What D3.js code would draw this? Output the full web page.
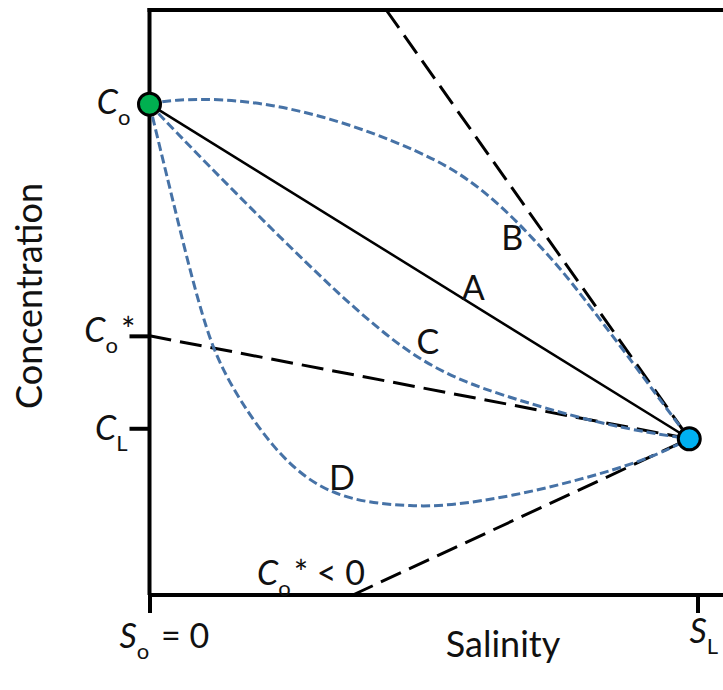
<!DOCTYPE html>
<html>
<head>
<meta charset="utf-8">
<script src="https://cdn.jsdelivr.net/npm/d3@7"></script>
<style>
  html, body { margin: 0; padding: 0; background: #fff; }
  svg { display: block; }
  text { font-family: Lato, "Open Sans", sans-serif; fill: #111; }
</style>
</head>
<body>
<svg id="chart" width="723" height="690"></svg>
<script>
// Mixing diagram: concentration vs salinity between river end-member (S = 0)
// and ocean end-member (S = S_L). Units are schematic (0–100).

// End-members [salinity, concentration]
const riverEnd = [0, 83.9];
const oceanEnd = [98.5, 26.7];

// Axis tick positions
const salinityTicks = [0, 100];
const salinityTickNames = [["S", "o", " = 0"], ["S", "L", ""]];
const concTicks = [44.3, 28.5];
const concTickNames = [["C", "o", "*"], ["C", "L", ""]];

// Mixing curves (non-conservative behaviour)
const curveB = [[0, 83.9], [4.3, 84.7], [13.4, 84.8], [22.5, 83.8], [31.7, 81.8], [40.8, 79.0],
  [48.8, 75.9], [54.8, 73.1], [60.3, 69.6], [65.8, 65.0], [70.0, 60.9], [74.9, 55.9],
  [79.1, 50.9], [85.9, 42.6], [92.2, 34.6], [98.5, 26.7]];
const curveC = [[0, 83.9], [5.0, 79.0], [10.5, 73.7], [16.5, 68.0], [22.5, 62.4], [28.4, 57.0],
  [34.2, 51.8], [39.7, 47.2], [45.7, 42.6], [51.7, 39.0], [57.9, 36.3], [64.0, 34.3],
  [72.7, 31.8], [82.2, 29.4], [91.3, 27.7], [98.5, 26.7]];
const curveD = [[0, 83.9], [1.9, 76.5], [4.3, 67.3], [7.4, 55.4], [10.5, 45.0], [12.9, 39.4],
  [16.5, 33.2], [22.5, 25.2], [28.7, 19.7], [34.8, 16.9], [40.8, 15.7], [47.5, 15.2],
  [54.3, 15.2], [66.3, 16.9], [78.6, 19.7], [90.8, 23.1], [98.5, 26.7]];

// Tangent lines at the ocean end-member (extrapolated effective river concentrations)
const tangentB = [[43.2, 100], [98.5, 26.7]];
const tangentC = [[0, 44.3], [98.5, 26.7]];
const tangentD = [[37.1, 0], [98.5, 26.7]];

// Curve labels
const curveLabels = [
  { name: "A", s: 59.1, c: 50.4 },
  { name: "B", s: 66.2, c: 58.9 },
  { name: "C", s: 50.8, c: 41.2 },
  { name: "D", s: 35.1, c: 18.0 }
];

const svg = d3.select("#chart");
const W = 723;
const x = d3.scaleLinear().domain([0, 100]).range([149.5, 697.5]);
const y = d3.scaleLinear().domain([0, 100]).range([595, 10]);

const line = d3.line().x(d => x(d[0])).y(d => y(d[1]));
const smooth = d3.line().x(d => x(d[0])).y(d => y(d[1])).curve(d3.curveBasis);

// Frame: top border and baseline running to the right edge
svg.append("line").attr("x1", x(0) - 2).attr("x2", W).attr("y1", y(100)).attr("y2", y(100))
  .attr("stroke", "#000").attr("stroke-width", 4);
svg.append("line").attr("x1", x(0)).attr("x2", W).attr("y1", y(0)).attr("y2", y(0))
  .attr("stroke", "#000").attr("stroke-width", 4);
svg.append("line").attr("x1", x(0)).attr("x2", x(0)).attr("y1", y(100) - 2).attr("y2", y(0))
  .attr("stroke", "#000").attr("stroke-width", 4);

// Axes (ticks only)
const xAxis = d3.axisBottom(x).tickValues(salinityTicks).tickSize(18).tickSizeOuter(0).tickFormat("");
const gx = svg.append("g").attr("transform", `translate(0,${y(0)})`).call(xAxis);
gx.select(".domain").remove();
gx.selectAll(".tick line").attr("stroke", "#000").attr("stroke-width", 4);

const yAxis = d3.axisLeft(y).tickValues(concTicks).tickSize(20).tickSizeOuter(0).tickFormat("");
const gy = svg.append("g").attr("transform", `translate(${x(0)},0)`).call(yAxis);
gy.select(".domain").remove();
gy.selectAll(".tick line").attr("stroke", "#000").attr("stroke-width", 4);

// Label with italic symbol + subscript + trailing text
function symLabel(sel, parts, size, subSize) {
  sel.append("tspan").attr("font-style", "italic").attr("font-size", size).text(parts[0]);
  sel.append("tspan").attr("font-size", subSize).attr("dy", 11).text(parts[1]);
  if (parts[2]) sel.append("tspan").attr("font-size", size).attr("dx", 3).attr("dy", -11).text(parts[2]);
}

// y tick labels
const yLabelOffsets = [[-14, 6], [-22, 12]];
concTicks.forEach((v, i) => {
  const t = svg.append("text").attr("text-anchor", "end")
    .attr("x", x(0) + yLabelOffsets[i][0]).attr("y", y(v) + yLabelOffsets[i][1]);
  symLabel(t, concTickNames[i], 34, 22);
});
// C_o at the river end-member
{
  const t = svg.append("text").attr("text-anchor", "end")
    .attr("x", x(riverEnd[0]) - 19).attr("y", y(riverEnd[1]) + 10);
  symLabel(t, ["C", "o", ""], 34, 22);
}
// x tick labels
const xLabelOffsets = [[-30, 53], [-8, 48]];
salinityTicks.forEach((v, i) => {
  const t = svg.append("text").attr("text-anchor", "start")
    .attr("x", x(v) + xLabelOffsets[i][0]).attr("y", y(0) + xLabelOffsets[i][1]);
  symLabel(t, salinityTickNames[i], 34, 22);
});

// Axis titles
svg.append("text").attr("text-anchor", "middle").attr("font-size", 36)
  .attr("x", 503).attr("y", 657).text("Salinity");
svg.append("text").attr("text-anchor", "middle").attr("font-size", 36)
  .attr("transform", `translate(42,296) rotate(-90)`).text("Concentration");

// Tangent lines
[tangentB, tangentC, tangentD].forEach(seg => {
  svg.append("path").attr("d", line(seg)).attr("fill", "none")
    .attr("stroke", "#000").attr("stroke-width", 3).attr("stroke-dasharray", "22,9");
});

// Conservative mixing line A
svg.append("path").attr("d", line([riverEnd, oceanEnd])).attr("fill", "none")
  .attr("stroke", "#000").attr("stroke-width", 2.5);

// Non-conservative mixing curves
[curveB, curveC, curveD].forEach(c => {
  svg.append("path").attr("d", smooth(c)).attr("fill", "none")
    .attr("stroke", "#4672a6").attr("stroke-width", 3).attr("stroke-dasharray", "9,4");
});

// "C_o* < 0" annotation for the negative intercept of the lower tangent
{
  const t = svg.append("text").attr("x", 257).attr("y", 585);
  symLabel(t, ["C", "o", "* < 0"], 34, 22);
}

// Curve letters
svg.selectAll("text.curve").data(curveLabels).join("text").attr("class", "curve")
  .attr("text-anchor", "middle").attr("font-size", 34)
  .attr("x", d => x(d.s)).attr("y", d => y(d.c)).text(d => d.name);

// End-member points
svg.append("circle").attr("cx", x(riverEnd[0])).attr("cy", y(riverEnd[1])).attr("r", 11)
  .attr("fill", "#00b050").attr("stroke", "#000").attr("stroke-width", 3);
svg.append("circle").attr("cx", x(oceanEnd[0])).attr("cy", y(oceanEnd[1])).attr("r", 11)
  .attr("fill", "#00b0f0").attr("stroke", "#000").attr("stroke-width", 3);
</script>
</body>
</html>
